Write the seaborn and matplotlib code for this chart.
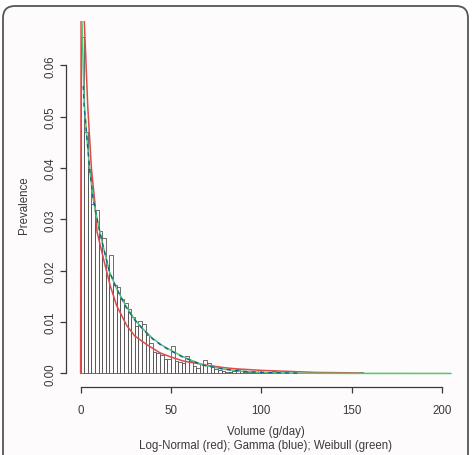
import numpy as np
import pandas as pd
import matplotlib
matplotlib.use("Agg")
import matplotlib.pyplot as plt
import matplotlib.patches as mpatches
import seaborn as sns

# histogram bins (width 2 g/day) and their densities
bin_width = 2
bin_left = list(range(0, 156, 2))
prevalence = [
    0.0655, 0.047, 0.0398, 0.033, 0.0318, 0.0278, 0.0263, 0.0212, 0.0231, 0.0172,
    0.0168, 0.0145, 0.0137, 0.0125, 0.011, 0.0092, 0.0103, 0.0096, 0.0075, 0.006,
    0.0042, 0.004, 0.0035, 0.0028, 0.0028, 0.0054, 0.0025, 0.0022, 0.002, 0.0034,
    0.0025, 0.0015, 0.001, 0.0018, 0.0027, 0.002, 0.0012, 0.0008, 0.0006, 0.0004,
    0.0003, 0.0003, 0.0004, 0.0008, 0.0005, 0.0002, 0.0002, 0.0002, 0.0001, 0.0006,
    0.0003, 0.0002, 0.0001, 0.0004, 0.0001, 0.0001, 0.0, 0.0001, 0.0, 0.0,
    0.0001, 0.0, 0.0, 0.0001, 0.0, 0.0, 0.0, 0.0, 0.0, 0.0,
    0.0, 0.0, 0.0, 0.0, 0.0, 0.0, 0.0, 0.0003,
]

# fitted densities
lognorm_x = [0.05, 0.4, 1.8, 2.1, 4, 6, 8, 9.1, 12.6, 16.4, 20, 25.6, 30, 36.7, 44, 50,
             57, 62, 70, 80, 86, 100, 115, 130, 155]
lognorm_y = [0.0, 0.09, 0.09, 0.0685, 0.052, 0.040, 0.033, 0.0276, 0.0225, 0.0171, 0.0132,
             0.0093, 0.0073, 0.0056, 0.0040, 0.0032, 0.0024, 0.0021, 0.0016, 0.0011, 0.0009,
             0.0006, 0.0004, 0.0002, 0.0001]

gamma_x = [1.5, 2, 3.5, 5, 7, 9.5, 12, 16, 20, 25, 30, 35, 40, 45, 50, 57, 68, 80, 90,
           100, 120]
gamma_y = [0.056, 0.052, 0.046, 0.040, 0.034, 0.0295, 0.0255, 0.0198, 0.0165, 0.0130,
           0.0104, 0.0084, 0.0067, 0.0054, 0.0044, 0.0031, 0.0016, 0.0008, 0.0004,
           0.0002, 0.00005]

weibull_x = [0.8, 2, 3.5, 5, 7, 9.5, 12, 16, 20, 25, 30, 35, 40, 45, 50, 57, 68, 80, 90,
             100, 120, 150, 205]
weibull_y = [0.0686, 0.053, 0.046, 0.040, 0.034, 0.0295, 0.0255, 0.0198, 0.0165, 0.0132,
             0.0105, 0.0085, 0.0068, 0.0055, 0.0045, 0.0032, 0.0016, 0.0008, 0.0004,
             0.0002, 0.00005, 0.00001, 0.0]

x_ticks = [0, 50, 100, 150, 200]
y_ticks = [0.00, 0.01, 0.02, 0.03, 0.04, 0.05, 0.06]

sns.set_style("white")
plt.rcParams["font.family"] = ["Liberation Sans", "DejaVu Sans"]
plt.rcParams["font.size"] = 8

bg = "#fdfbfb"
ink = "#3a3a3a"

fig = plt.figure(figsize=(4.77, 4.56), dpi=100, facecolor="white")
ax = fig.add_axes([65.7 / 477, 1 - 388 / 456, (466 - 65.7) / 477, (388 - 22) / 456])
ax.set_facecolor(bg)

# rounded frame around the panel
frame = mpatches.FancyBboxPatch(
    (0.03, -0.3), 4.65, 4.79, boxstyle="round,pad=0,rounding_size=0.12",
    transform=fig.dpi_scale_trans, facecolor=bg, edgecolor="#555555", linewidth=1.3,
    zorder=-10)
fig.patches.append(frame)

hist_df = pd.DataFrame({"x": [b + bin_width / 2 for b in bin_left], "w": prevalence})
edges = list(range(0, 158, 2))
sns.histplot(data=hist_df, x="x", weights="w", bins=edges, stat="count", fill=False,
             color="#555555", linewidth=0.6, ax=ax)

sns.lineplot(x=lognorm_x, y=lognorm_y, color="#dd4a4a", linewidth=1.1, sort=False,
             estimator=None, ax=ax)
sns.lineplot(x=weibull_x, y=weibull_y, color="#4ccc6e", linewidth=1.1, sort=False,
             estimator=None, ax=ax)
sns.lineplot(x=gamma_x, y=gamma_y, color="#1f5a9a", linewidth=1.0, linestyle=(0, (3, 3)),
             sort=False, estimator=None, ax=ax)

ax.set_xlim(-8.2, 213.2)
ax.set_ylim(-0.00264, 0.06864)

for side in ["top", "right"]:
    ax.spines[side].set_visible(False)
for side in ["left", "bottom"]:
    ax.spines[side].set_color(ink)
    ax.spines[side].set_linewidth(0.9)
ax.spines["left"].set_bounds(0, 0.06)
ax.spines["bottom"].set_bounds(0, 200)

ax.set_xticks(x_ticks)
ax.set_xticklabels([str(t) for t in x_ticks])
ax.set_yticks(y_ticks)
ax.set_yticklabels([f"{t:.2f}" for t in y_ticks], rotation=90, va="center")
ax.tick_params(axis="both", direction="out", length=4.5, width=0.9, color=ink,
               labelcolor=ink, labelsize=8.3, bottom=True, left=True)
ax.tick_params(axis="x", pad=7.5)
ax.tick_params(axis="y", pad=2)

ax.set_xlabel("Volume (g/day)\nLog-Normal (red); Gamma (blue); Weibull (green)",
              color=ink, fontsize=8.3, labelpad=7, linespacing=1.2)
ax.set_ylabel("Prevalence", color=ink, fontsize=8.3, labelpad=10.5)

fig.savefig("out.png", dpi=100, facecolor="white")
